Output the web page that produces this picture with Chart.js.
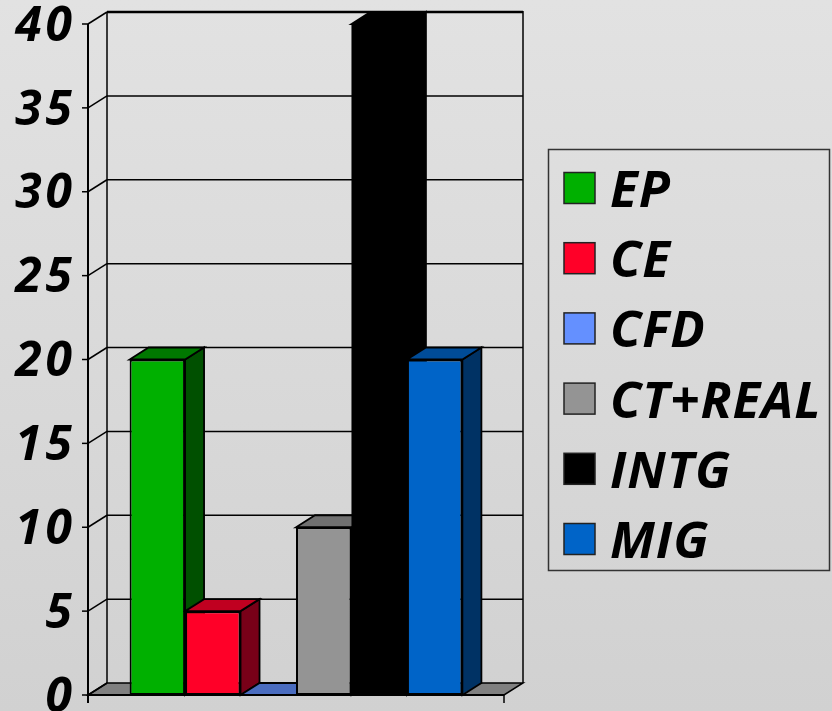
<!DOCTYPE html>
<html>
<head>
<meta charset="utf-8">
<style>
  html, body { margin: 0; padding: 0; }
  body { width: 832px; height: 711px; overflow: hidden;
         background: linear-gradient(#e2e2e2, #d1d1d1); }
  #wrap { width: 832px; height: 711px; position: relative; }
  canvas { display: block; }
</style>
<script src="https://cdn.jsdelivr.net/npm/chart.js@4/dist/chart.umd.min.js"></script>
</head>
<body>
<div id="wrap"><canvas id="c" width="832" height="711"></canvas></div>
<script>
// Series shown in the chart
const seriesNames  = ['EP', 'CE', 'CFD', 'CT+REAL', 'INTG', 'MIG'];
const seriesValues = [20, 5, 0, 10, 40, 20];

// Value axis
const yMin = 0;
const yMax = 40;
const yStep = 5;

// Face colours of each 3D column: front, top, right side
const frontColors = ['#00b000', '#ff0028', '#6490ff', '#949494', '#000000', '#0064c8'];
const topColors   = ['#007800', '#c00020', '#4a6cbf', '#707070', '#000000', '#004c98'];
const sideColors  = ['#005000', '#780018', '#2c4a90', '#5a5a5a', '#000000', '#003264'];

const FONT = "'Open Sans', 'DejaVu Sans', sans-serif";
const DEPTH_X = 19;   // projection of the depth axis
const DEPTH_Y = -12;

function poly(ctx, pts, fill, stroke, lw) {
  ctx.beginPath();
  ctx.moveTo(pts[0][0], pts[0][1]);
  for (let i = 1; i < pts.length; i++) ctx.lineTo(pts[i][0], pts[i][1]);
  ctx.closePath();
  if (fill) { ctx.fillStyle = fill; ctx.fill(); }
  if (stroke) { ctx.strokeStyle = stroke; ctx.lineWidth = lw; ctx.stroke(); }
}

function line(ctx, x1, y1, x2, y2, lw) {
  ctx.beginPath();
  ctx.moveTo(x1, y1);
  ctx.lineTo(x2, y2);
  ctx.lineWidth = lw;
  ctx.strokeStyle = '#000';
  ctx.stroke();
}

// Wider spacing between the digits of the value labels
const tickSpacing = {
  id: 'tickSpacing',
  beforeDraw(chart) { chart.ctx.letterSpacing = '4px'; },
  afterDraw(chart) { chart.ctx.letterSpacing = '0px'; }
};

// Floor, walls, gridlines and the depth faces of the columns
const box3d = {
  id: 'box3d',
  beforeDatasetsDraw(chart) {
    const ctx = chart.ctx;
    const a = chart.chartArea;
    const ys = chart.scales.y;
    const L = a.left, R = a.right, B = ys.getPixelForValue(yMin), T = ys.getPixelForValue(yMax);
    ctx.save();
    ctx.lineJoin = 'miter';

    // floor
    poly(ctx, [[L, B], [R, B], [R + DEPTH_X, B + DEPTH_Y], [L + DEPTH_X, B + DEPTH_Y]], '#808080', '#000', 1.5);

    // back wall gridlines and side-wall diagonals
    for (let v = yMin; v <= yMax; v += yStep) {
      const y = ys.getPixelForValue(v);
      if (v > yMin) line(ctx, L + DEPTH_X, y + DEPTH_Y, R + DEPTH_X, y + DEPTH_Y, v === yMax ? 2.5 : 1.5);
      line(ctx, L, y, L + DEPTH_X, y + DEPTH_Y, 1.5);
      line(ctx, L - 6, y, L, y, 1.5);
    }
    // wall edges
    line(ctx, L + DEPTH_X, T + DEPTH_Y, L + DEPTH_X, B + DEPTH_Y, 1.5);
    line(ctx, R + DEPTH_X, T + DEPTH_Y - 1, R + DEPTH_X, B + DEPTH_Y, 1.5);
    line(ctx, L, T, L, B + 8, 2);
    line(ctx, R, B, R, B + 8, 1.5);
    line(ctx, L, B, R, B, 2);

    // top and side faces of each column, drawn left to right
    chart.data.datasets.forEach((ds, i) => {
      const el = chart.getDatasetMeta(i).data[0];
      const p = el.getProps(['x', 'y', 'base', 'width'], true);
      const x0 = p.x - p.width / 2, x1 = p.x + p.width / 2;
      const top = p.y, base = p.base;
      if (base - top > 0.5) {
        poly(ctx, [[x1 - 1.5, top], [x1 + DEPTH_X, top + DEPTH_Y], [x1 + DEPTH_X, base + DEPTH_Y], [x1 - 1.5, base]],
             sideColors[i], null, 0);
        poly(ctx, [[x1, top], [x1 + DEPTH_X, top + DEPTH_Y], [x1 + DEPTH_X, base + DEPTH_Y], [x1, base]],
             null, '#000', 1.8);
      }
      poly(ctx, [[x0, top], [x1, top], [x1 + DEPTH_X, top + DEPTH_Y], [x0 + DEPTH_X, top + DEPTH_Y]],
           topColors[i], '#000', 1.8);
    });
    ctx.restore();
  }
};

// Framed legend at the right
const legendBox = {
  id: 'legendBox',
  afterDraw(chart) {
    const ctx = chart.ctx;
    ctx.save();
    ctx.strokeStyle = '#333';
    ctx.lineWidth = 1.5;
    ctx.strokeRect(548.5, 149.5, 281, 421);
    ctx.font = 'italic bold 51px ' + FONT;
    ctx.letterSpacing = '1px';
    ctx.textBaseline = 'alphabetic';
    ctx.textAlign = 'left';
    seriesNames.forEach((name, i) => {
      const cy = 188 + i * 70.2;
      ctx.fillStyle = frontColors[i];
      ctx.fillRect(564, cy - 15.5, 31, 31);
      ctx.strokeStyle = '#222';
      ctx.lineWidth = 1.5;
      ctx.strokeRect(564, cy - 15.5, 31, 31);
      ctx.fillStyle = '#000';
      ctx.fillText(name, 610, cy + 19);
    });
    ctx.restore();
  }
};

new Chart(document.getElementById('c').getContext('2d'), {
  type: 'bar',
  data: {
    labels: [''],
    datasets: seriesNames.map((name, i) => ({
      label: name,
      data: [seriesValues[i]],
      backgroundColor: frontColors[i],
      borderColor: '#000',
      // a black column needs no separate outline
      borderWidth: frontColors[i] === '#000000' ? 0 : 2,
      borderSkipped: false,
      categoryPercentage: 0.8,
      barPercentage: 1.0
    }))
  },
  options: {
    responsive: false,
    animation: false,
    devicePixelRatio: 1,
    layout: { padding: { left: 0, top: 24, right: 328, bottom: 16 } },
    plugins: { legend: { display: false }, tooltip: { enabled: false } },
    scales: {
      x: { display: false },
      y: {
        min: yMin,
        max: yMax,
        ticks: {
          stepSize: yStep,
          color: '#000',
          padding: 12,
          labelOffset: 3,
          font: { family: FONT, size: 48, weight: 'bold', style: 'italic', lineHeight: 1 }
        },
        grid: { display: false, drawTicks: false },
        border: { display: false },
        afterFit(scale) {
          scale.width = 88;
          scale.paddingTop = 0;
          scale.paddingBottom = 0;
        }
      }
    }
  },
  plugins: [tickSpacing, box3d, legendBox]
});
</script>
</body>
</html>
